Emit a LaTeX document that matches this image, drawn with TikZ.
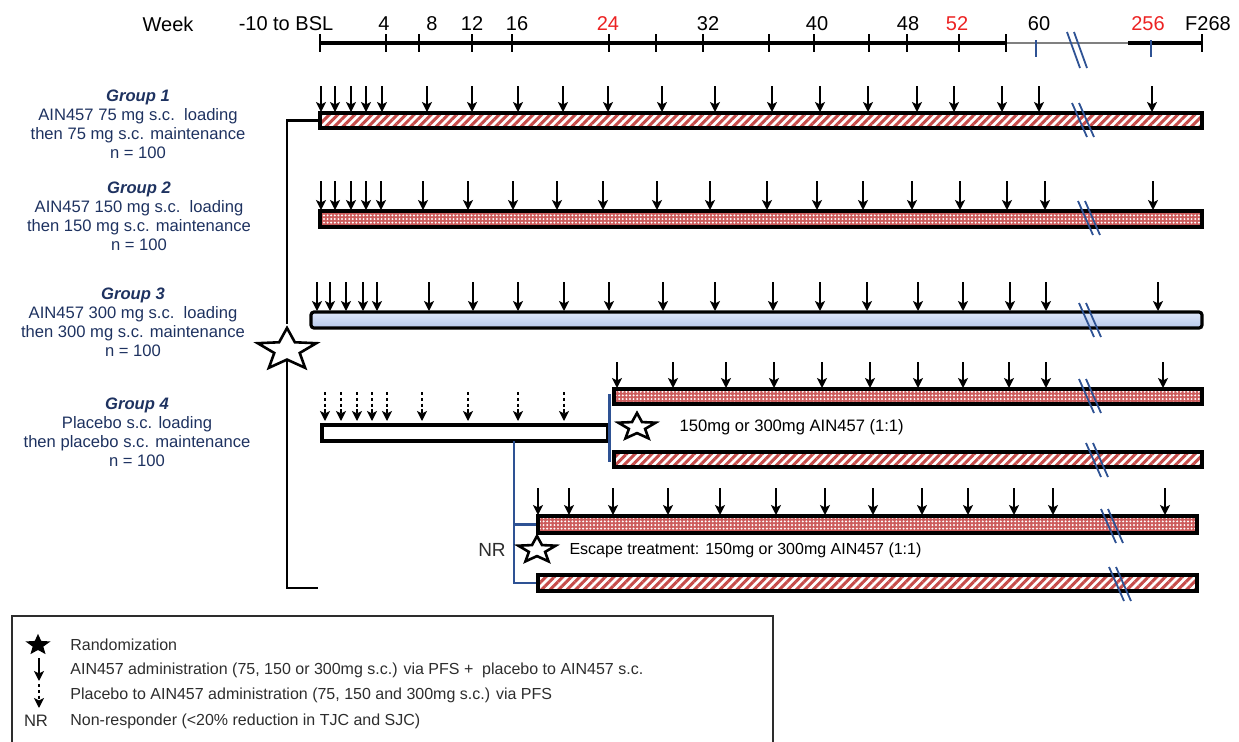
\documentclass[tikz,border=0pt]{standalone}
\usepackage{fontspec}
\setmainfont{Liberation Sans}
\usetikzlibrary{arrows.meta,positioning,shapes.geometric,patterns.meta,fit}

\definecolor{hatchred}{RGB}{198,76,74}
\definecolor{dotred}{RGB}{204,92,92}
\definecolor{armbluetop}{RGB}{222,231,249}
\definecolor{armbluebot}{RGB}{182,200,236}
\definecolor{navytext}{RGB}{30,50,96}
\definecolor{linkblue}{RGB}{46,82,148}
\definecolor{weekred}{RGB}{236,34,34}
\definecolor{keygray}{RGB}{45,45,45}

\begin{document}
\begin{tikzpicture}[
    x=0.5pt, y=-0.5pt,
    font=\fontsize{8.3}{9.5}\selectfont,
    armbar/.style={
        draw,
        line width=1.6pt,
        inner sep=0pt
    },
    hatchbar/.style={
        armbar,
        pattern={Lines[angle=45,distance=3pt,line width=1.5pt]},
        pattern color=hatchred
    },
    dotbar/.style={
        armbar,
        preaction={fill=dotred},
        pattern={Dots[distance=1.8pt,radius=0.55pt]},
        pattern color=white
    },
    bluebar/.style={
        armbar,
        rounded corners=1.5pt,
        top color=armbluetop,
        bottom color=armbluebot
    },
    pbobar/.style={
        armbar,
        fill=white
    },
    dose/.style={
        -{Stealth[length=5pt,width=5pt,inset=1.2pt]},
        line width=1.3pt
    },
    pbodose/.style={
        dose,
        dash pattern=on 1.6pt off 1.3pt
    },
    randstar/.style={
        star,
        star points=5,
        star point ratio=2.3,
        draw,
        fill=white,
        line width=1.3pt,
        inner sep=0pt
    },
    grouplbl/.style={
        align=center,
        text=navytext,
        inner sep=0pt
    },
    weeklbl/.style={
        font=\fontsize{10}{12}\selectfont,
        inner sep=0pt
    },
    keytext/.style={
        anchor=west,
        font=\fontsize{8}{9.5}\selectfont,
        text=keygray,
        inner sep=0pt
    },
    tick/.style={line width=1.4pt},
    bracket/.style={line width=1.1pt},
    bluelink/.style={draw=linkblue, line width=1.2pt},
    brkmark/.style={draw=linkblue, line width=0.9pt}
]
\useasboundingbox (0,0) rectangle (1239,741);

% week axis
\node[weeklbl] (wk) at (168,24) {Week};
\node[weeklbl] (wkbsl) at (286,24) {-10 to BSL};
\foreach \wx/\wt in {384/4,432/8,472/12,517/16,708/32,817/40,908/48,1039/60,1208/F268}
    \node[weeklbl] (wk\wt) at (\wx,24) {\wt};
\foreach \wx/\wt in {608/24,957/52,1148/256}
    \node[weeklbl, text=weekred] (wk\wt) at (\wx,24) {\wt};

\draw[line width=1.6pt] (320,43) -- (1006,43);
\draw[line width=0.7pt, gray] (1006,43) -- (1128,43);
\draw[line width=1.6pt] (1128,43) -- (1202,43);
\foreach \t in {320,386,419,472,512,609,656,703,769,814,869,907,959,1006,1202}
    \draw[tick] (\t,34) -- (\t,52);
\foreach \t in {1036,1151}
    \draw[tick, linkblue] (\t,40) -- (\t,57);
\draw[brkmark] (1067,32) -- (1080,68);
\draw[brkmark] (1074,32) -- (1087,68);

% group labels
\node[grouplbl] (g1lbl) at (138,124) {\textbf{\textit{Group 1}}\\
    AIN457 75 mg s.c.\ \ loading\\ then 75 mg s.c. maintenance\\ n = 100};
\node[grouplbl] (g2lbl) at (139,216) {\textbf{\textit{Group 2}}\\
    AIN457 150 mg s.c.\ \ loading\\ then 150 mg s.c. maintenance\\ n = 100};
\node[grouplbl] (g3lbl) at (133,322) {\textbf{\textit{Group 3}}\\
    AIN457 300 mg s.c.\ \ loading\\ then 300 mg s.c. maintenance\\ n = 100};
\node[grouplbl] (g4lbl) at (137,432) {\textbf{\textit{Group 4}}\\
    Placebo s.c. loading\\ then placebo s.c. maintenance\\ n = 100};

% treatment bars
\node[hatchbar, fit={(320,113) (1202,128)}] (g1bar) {};
\node[dotbar, fit={(320,211) (1202,227)}] (g2bar) {};
\node[bluebar, fit={(311,312) (1202,328)}] (g3bar) {};
\node[dotbar, fit={(614,389) (1202,404)}] (g4top) {};
\node[pbobar, fit={(322,425) (608,441)}] (g4pbo) {};
\node[hatchbar, fit={(614,452) (1202,467)}] (g4low) {};
\node[dotbar, fit={(538,516) (1197,533)}] (esctop) {};
\node[hatchbar, fit={(538,575) (1197,591)}] (esclow) {};

\foreach \cx/\cy in {1083/120,1089/218,1090/320,1090/396,1097/460,1112/526,1120/584} {
    \draw[brkmark] (\cx-11,\cy-17) -- (\cx+4,\cy+17);
    \draw[brkmark] (\cx-4,\cy-17) -- (\cx+11,\cy+17);
}

% dosing
\foreach \x in {321,335,351,366,382,427,472,518,563,608,662,715,772,820,868,917,954,1002,1039,1152}
    \draw[dose] (\x,86) -- (\x,112);
\foreach \x in {321,335,351,366,381,423,468,513,557,603,657,710,767,817,863,912,960,1007,1045,1153}
    \draw[dose] (\x,181) -- (\x,210);
\foreach \x in {317,330,346,363,377,429,473,518,564,609,663,715,773,820,867,918,963,1010,1046,1158}
    \draw[dose] (\x,282) -- (\x,311);
\foreach \x in {325,341,357,372,387,422,468,518,564}
    \draw[pbodose] (\x,392) -- (\x,421);
\foreach \x in {617,673,726,774,822,870,918,963,1009,1046,1163}
    \draw[dose] (\x,362) -- (\x,388);
\foreach \x in {538,569,613,668,720,776,825,873,922,968,1014,1053,1165}
    \draw[dose] (\x,488) -- (\x,515);

% randomisation
\node[randstar, minimum size=22pt, xscale=1.4] (rand) at (287,350) {};
\coordinate (brkend) at (318,588);
\draw[bracket] (g1bar.west) -| (rand.north);
\draw[bracket] (rand.south) |- (brkend);

\draw[bluelink] ([xshift=-1.5pt,yshift=-3.5pt]g4top.north west)
    -- ([xshift=-1.5pt,yshift=3.5pt]g4low.south west);
\node[randstar, minimum size=14pt, xscale=1.4] (g4rand) at (637,427) {};
\node[keytext, text=black, font=\fontsize{8.3}{9.5}\selectfont, right=14pt of g4rand] (g4txt) {150mg or 300mg AIN457 (1:1)};

\coordinate (nrsplit) at (514,441);
\draw[bluelink] (nrsplit) |- (esctop.west);
\draw[bluelink] (nrsplit) |- (esclow.west);
\node[randstar, minimum size=14pt, xscale=1.4] (escrand) at (537,550) {};
\node[font=\fontsize{9.5}{11}\selectfont, text=keygray, inner sep=0pt] (nrlbl) at (492,550) {NR};
\node[keytext, text=black, right=9pt of escrand] (esctxt) {Escape treatment: 150mg or 300mg AIN457 (1:1)};

% key
\draw[line width=0.8pt, keygray] (12,742) |- (773,616) -- (773,742);
\node[randstar, fill=black, minimum size=8pt, xscale=1.15] (keystar) at (38,645) {};
\node[keytext] (keyrand) at (70,645) {Randomization};
\draw[dose] (39,658) -- (39,681);
\node[keytext] (keydose) at (70,670) {AIN457 administration (75, 150 or 300mg s.c.) via PFS +\ \ placebo to AIN457 s.c.};
\draw[pbodose] (39,684) -- (39,708);
\node[keytext] (keypbo) at (70,695) {Placebo to AIN457 administration (75, 150 and 300mg s.c.) via PFS};
\node[text=keygray, inner sep=0pt] (keynr) at (36,721) {NR};
\node[keytext] (keynrtxt) at (70,721) {Non-responder (<20\% reduction in TJC and SJC)};

\end{tikzpicture}
\end{document}
